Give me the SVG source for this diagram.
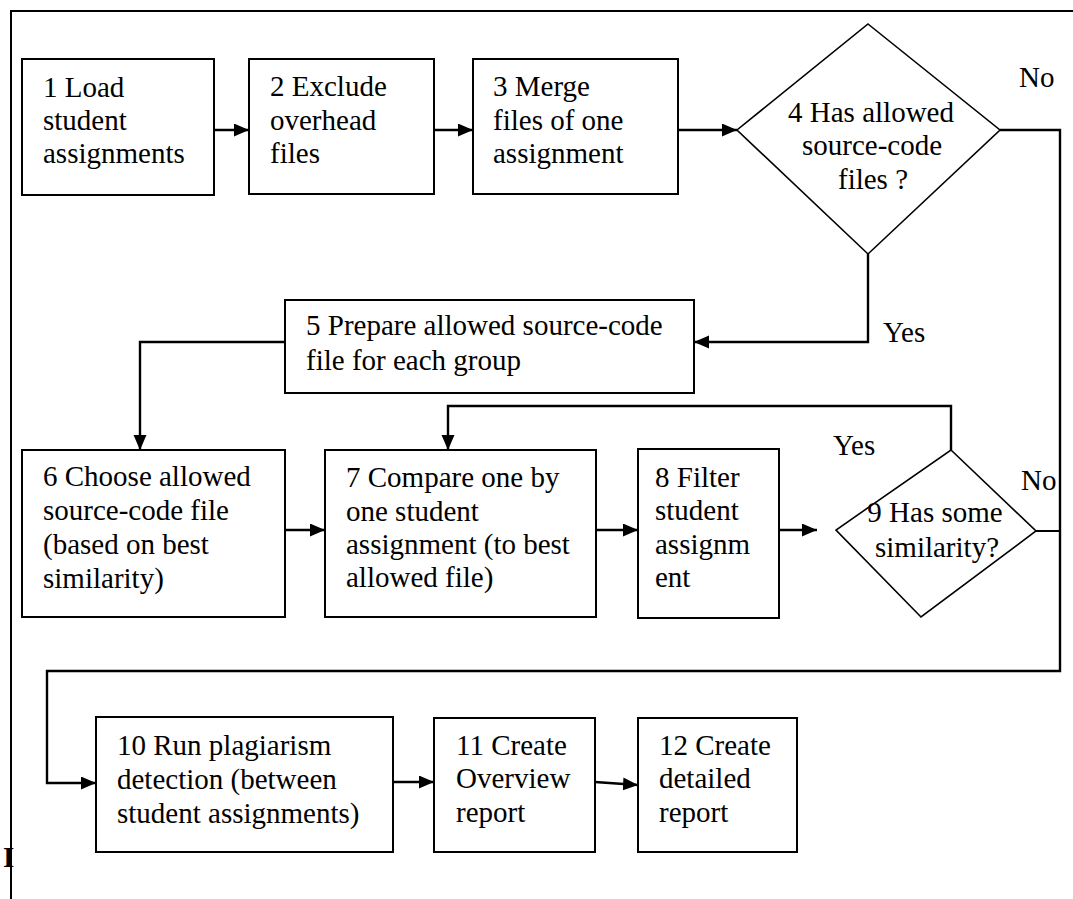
<svg xmlns="http://www.w3.org/2000/svg" width="1073" height="899" viewBox="0 0 1073 899">
<defs>
<style>
.box{fill:#fff;stroke:#000;stroke-width:2}
.dia{fill:#fff;stroke:#000;stroke-width:1.6}
.t{font-family:"Liberation Serif","Times New Roman",serif;font-size:29px;fill:#000}
.c{text-anchor:middle}
.ln{fill:none;stroke:#000;stroke-width:2}
.ar{fill:none;stroke:#000;stroke-width:2.4;marker-end:url(#ah)}
</style>
<marker id="ah" markerUnits="userSpaceOnUse" markerWidth="16" markerHeight="14" refX="15" refY="6.5" orient="auto">
<path d="M0,0 L15,6.5 L0,13 z" fill="#000"/>
</marker>
</defs>
<rect width="1073" height="899" fill="#fff"/>
<text class="t" x="3" y="867" style="font-weight:bold">I</text>
<g id="frame">
<path class="ln" d="M1073,11 L11,11 L11,899" stroke-width="2.4"/>
</g>
<g id="connectors">
<path class="ar" d="M214,130 L249,130"/>
<path class="ar" d="M434,130 L473,130"/>
<path class="ar" d="M678,130 L737,130"/>
<path class="ar" d="M868,254 L868,342 L694,342"/>
<path class="ar" d="M285,342 L140,342 L140,450"/>
<path class="ar" d="M285,530 L325,530"/>
<path class="ar" d="M596,530 L638,530"/>
<path class="ar" d="M779,530 L817,530"/>
<path class="ar" d="M951,450 L951,406 L448,406 L448,450"/>
<path class="ln" d="M1036,531 L1060,531"/>
<path class="ar" d="M1000,130 L1060,130 L1060,671 L47,671 L47,783 L96,783"/>
<path class="ar" d="M393,782 L434,782"/>
<path class="ar" d="M595,782 L638,785"/>
<text class="t" x="1019" y="87">No</text>
<text class="t" x="883" y="342">Yes</text>
<text class="t" x="833" y="455">Yes</text>
<text class="t" x="1021" y="490">No</text>
</g>
<g id="n1">
<rect class="box" x="22" y="59" width="192" height="136"/>
<text class="t" x="43" y="97">1 Load</text>
<text class="t" x="43" y="130">student</text>
<text class="t" x="43" y="163">assignments</text>
</g>
<g id="n2">
<rect class="box" x="249" y="59" width="185" height="135"/>
<text class="t" x="270" y="96">2 Exclude</text>
<text class="t" x="270" y="130">overhead</text>
<text class="t" x="270" y="163">files</text>
</g>
<g id="n3">
<rect class="box" x="473" y="59" width="205" height="135"/>
<text class="t" x="493" y="96">3 Merge</text>
<text class="t" x="493" y="130">files of one</text>
<text class="t" x="493" y="163">assignment</text>
</g>
<g id="n4">
<polygon class="dia" points="868,24 1000,130 868,254 737,130"/>
<text class="t c" x="871" y="122">4 Has allowed</text>
<text class="t c" x="872" y="155">source-code</text>
<text class="t c" x="873" y="189">files ?</text>
</g>
<g id="n5">
<rect class="box" x="285" y="300" width="409" height="93"/>
<text class="t" x="306" y="335">5 Prepare allowed source-code</text>
<text class="t" x="306" y="370">file for each group</text>
</g>
<g id="n6">
<rect class="box" x="22" y="450" width="263" height="167"/>
<text class="t" x="43" y="486">6 Choose allowed</text>
<text class="t" x="43" y="520">source-code file</text>
<text class="t" x="43" y="554">(based on best</text>
<text class="t" x="43" y="588">similarity)</text>
</g>
<g id="n7">
<rect class="box" x="325" y="450" width="271" height="167"/>
<text class="t" x="346" y="487">7 Compare one by</text>
<text class="t" x="346" y="521">one student</text>
<text class="t" x="346" y="554">assignment (to best</text>
<text class="t" x="346" y="587">allowed file)</text>
</g>
<g id="n8">
<rect class="box" x="638" y="449" width="141" height="169"/>
<text class="t" x="655" y="487">8 Filter</text>
<text class="t" x="655" y="520">student</text>
<text class="t" x="655" y="554">assignm</text>
<text class="t" x="655" y="587">ent</text>
</g>
<g id="n9">
<polygon class="dia" points="951,450 1036,531 921,617 836,530"/>
<text class="t c" x="935" y="522">9 Has some</text>
<text class="t c" x="937" y="557">similarity?</text>
</g>
<g id="n10">
<rect class="box" x="96" y="717" width="297" height="135"/>
<text class="t" x="117" y="755">10 Run plagiarism</text>
<text class="t" x="117" y="789">detection (between</text>
<text class="t" x="117" y="823">student assignments)</text>
</g>
<g id="n11">
<rect class="box" x="434" y="718" width="161" height="134"/>
<text class="t" x="456" y="755">11 Create</text>
<text class="t" x="456" y="788">Overview</text>
<text class="t" x="456" y="822">report</text>
</g>
<g id="n12">
<rect class="box" x="638" y="718" width="159" height="134"/>
<text class="t" x="659" y="755">12 Create</text>
<text class="t" x="659" y="788">detailed</text>
<text class="t" x="659" y="822">report</text>
</g>
</svg>
